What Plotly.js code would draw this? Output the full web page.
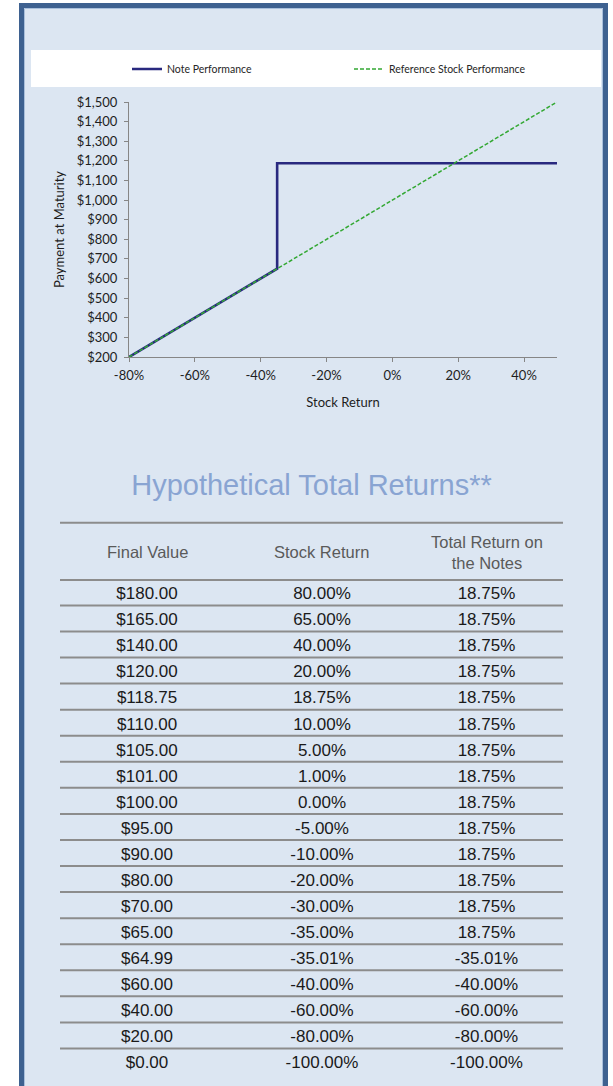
<!DOCTYPE html>
<html>
<head>
<meta charset="utf-8">
<script src="https://cdn.plot.ly/plotly-3.0.1.min.js"></script>
<style>
html,body{margin:0;padding:0;background:#ffffff;}
#chart{width:613px;height:1086px;}
</style>
</head>
<body>
<div id="chart"></div>
<script>
// ---------- chart data ----------
const noteX = [-80, -35, -35, 50];
const noteY = [200, 650, 1187.5, 1187.5];
const refX = [-80, -35, 0, 18.75, 50];
const refY = [200, 650, 1000, 1187.5, 1500];
const xTickVals = [-80, -60, -40, -20, 0, 20, 40];
const xTickText = ['-80%', '-60%', '-40%', '-20%', '0%', '20%', '40%'];

// ---------- table data ----------
const tableHeaders = ['Final Value', 'Stock Return', 'Total Return on<br>the Notes'];
const finalValues = [180, 165, 140, 120, 118.75, 110, 105, 101, 100, 95, 90, 80, 70, 65, 64.99, 60, 40, 20, 0];
const stockReturns = [80, 65, 40, 20, 18.75, 10, 5, 1, 0, -5, -10, -20, -30, -35, -35.01, -40, -60, -80, -100];
const noteReturns = [18.75, 18.75, 18.75, 18.75, 18.75, 18.75, 18.75, 18.75, 18.75, 18.75, 18.75, 18.75, 18.75, 18.75, -35.01, -40, -60, -80, -100];

// ---------- geometry helpers (pixels -> paper) ----------
const W = 613, H = 1086;
const px = v => v / W;
const py = v => 1 - v / H;

const chartFont = 'Lato, "Open Sans", sans-serif';
const tableFont = '"Liberation Sans", Arial, sans-serif';

const rows = finalValues.map((_, i) => i);
const colText = [
  finalValues.map(v => '$' + v.toFixed(2)),
  stockReturns.map(v => v.toFixed(2) + '%'),
  noteReturns.map(v => v.toFixed(2) + '%')
];

// row geometry: row i centre at 595 + rowPitch*i (px)
const rowPitch = 26.06, row0 = 595;
const y2Range = [(H - row0) / rowPitch, -row0 / rowPitch];

const colEdges = [60, 234, 410, 563];

const traces = [
  {
    type: 'scatter', mode: 'lines', name: 'Note Performance',
    x: noteX, y: noteY,
    line: {color: '#29297f', width: 2.6},
    legend: 'legend', hoverinfo: 'skip'
  },
  {
    type: 'scatter', mode: 'lines', name: 'Reference Stock Performance',
    x: refX, y: refY,
    line: {color: '#33a833', width: 1.5, dash: '4px,2px'},
    legend: 'legend2', hoverinfo: 'skip'
  }
];

colText.forEach((txt, c) => {
  traces.push({
    type: 'scatter', mode: 'text',
    x: rows.map(() => 0), y: rows, text: txt,
    textposition: 'middle center',
    textfont: {family: tableFont, size: 17, color: '#1a1a1a'},
    xaxis: 'x' + (c + 2), yaxis: 'y2',
    showlegend: false, hoverinfo: 'skip', cliponaxis: false
  });
});

const shapes = [
  // outer frame
  {type: 'rect', xref: 'paper', yref: 'paper', layer: 'below',
   x0: px(21.5), x1: px(605.5), y0: -0.05, y1: py(5.5),
   fillcolor: '#dce6f2', line: {color: '#3e6190', width: 5}},
  {type: 'rect', xref: 'paper', yref: 'paper', layer: 'below',
   x0: px(24.5), x1: px(602.5), y0: -0.05, y1: py(8.5),
   fillcolor: 'rgba(0,0,0,0)', line: {color: '#a9bfdb', width: 1}},
  // legend white band
  {type: 'rect', xref: 'paper', yref: 'paper', layer: 'below',
   x0: px(31), x1: px(601), y0: py(87), y1: py(50),
   fillcolor: '#ffffff', line: {width: 0}}
];

// table rules
const ruleY = [-2.77, -0.58].concat(rows.slice(0, rows.length - 1).map(i => i + 0.4));
ruleY.forEach(y => {
  shapes.push({type: 'line', xref: 'paper', yref: 'y2', layer: 'above',
    x0: px(colEdges[0]), x1: px(colEdges[3]), y0: y, y1: y,
    line: {color: '#8c8c8c', width: 2}});
});

const annotations = tableHeaders.map((h, c) => ({
  xref: 'x' + (c + 2) + ' domain', yref: 'y2',
  x: 0.5, y: -1.65, text: h, showarrow: false,
  xanchor: 'center', yanchor: 'middle', align: 'center',
  font: {family: tableFont, size: 16.5, color: '#5a5a5a'}
}));

const hiddenAx = (d) => ({domain: d, range: [-1, 1], visible: false, fixedrange: true, anchor: 'y2'});

const layout = {
  width: W, height: H,
  margin: {l: 0, r: 0, t: 0, b: 0, pad: 0},
  paper_bgcolor: '#ffffff',
  plot_bgcolor: 'rgba(0,0,0,0)',
  showlegend: true,
  title: {
    text: 'Hypothetical Total Returns**',
    font: {family: tableFont, size: 29, color: '#89a4d2'},
    x: px(311.5), xanchor: 'center', y: py(484.5), yanchor: 'middle'
  },
  xaxis: {
    domain: [px(129), px(557)], anchor: 'y',
    range: [-80, 50], tickvals: xTickVals, ticktext: xTickText,
    ticks: 'outside', ticklen: 4, tickcolor: '#868686', tickwidth: 1,
    ticklabelstandoff: 2,
    showline: true, linecolor: '#868686', linewidth: 1,
    showgrid: false, zeroline: false, fixedrange: true,
    tickfont: {family: chartFont, size: 13, color: '#1e1e1e'},
    title: {text: 'Stock Return', font: {family: chartFont, size: 13, color: '#1e1e1e'}, standoff: 16}
  },
  yaxis: {
    domain: [py(357), py(102)], anchor: 'x',
    range: [200, 1500], tick0: 200, dtick: 100,
    tickprefix: '$', tickformat: ',d',
    ticks: 'outside', ticklen: 4, tickcolor: '#868686', tickwidth: 1,
    ticklabelstandoff: 4,
    showline: true, linecolor: '#868686', linewidth: 1,
    showgrid: false, zeroline: false, fixedrange: true,
    tickfont: {family: chartFont, size: 13, color: '#1e1e1e'},
    title: {text: 'Payment at Maturity', font: {family: chartFont, size: 13, color: '#1e1e1e'}, standoff: 9}
  },
  xaxis2: hiddenAx([px(colEdges[0]), px(colEdges[1])]),
  xaxis3: hiddenAx([px(colEdges[1]), px(colEdges[2])]),
  xaxis4: hiddenAx([px(colEdges[2]), px(colEdges[3])]),
  yaxis2: {domain: [0, 1], range: y2Range, visible: false, fixedrange: true, anchor: 'x2'},
  legend: {
    x: px(127), xanchor: 'left', y: py(69), yanchor: 'middle',
    orientation: 'h', bgcolor: 'rgba(0,0,0,0)', borderwidth: 0,
    font: {family: chartFont, size: 10.5, color: '#262626'}
  },
  legend2: {
    x: px(349), xanchor: 'left', y: py(69), yanchor: 'middle',
    orientation: 'h', bgcolor: 'rgba(0,0,0,0)', borderwidth: 0,
    font: {family: chartFont, size: 10.5, color: '#262626'}
  },
  shapes: shapes,
  annotations: annotations
};

Plotly.newPlot('chart', traces, layout, {displayModeBar: false, staticPlot: true});
</script>
</body>
</html>
